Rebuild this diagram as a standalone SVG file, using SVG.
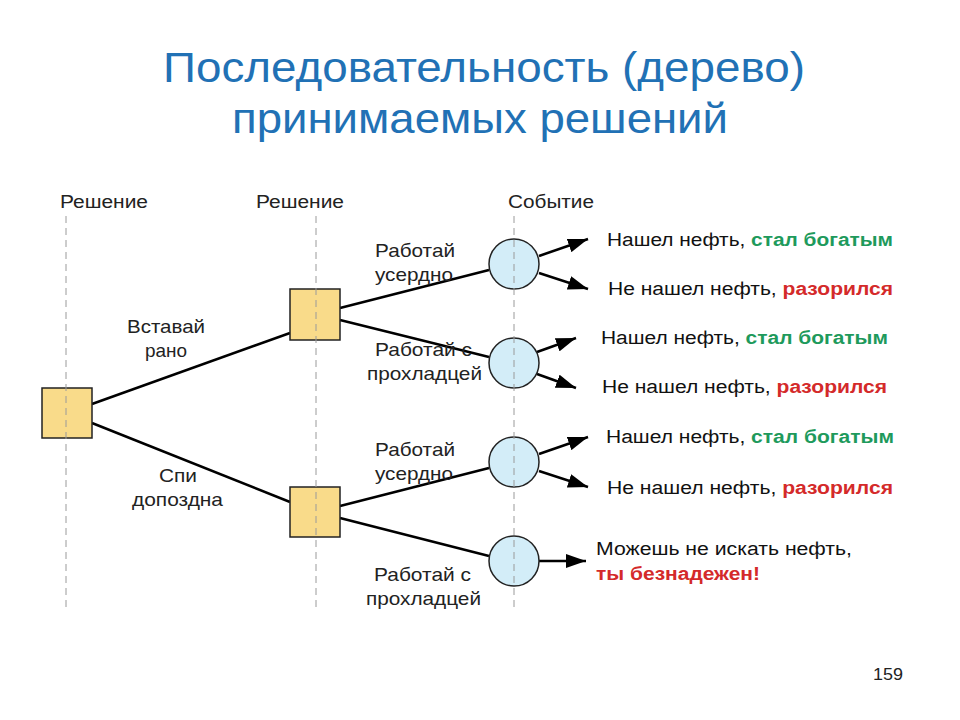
<svg xmlns="http://www.w3.org/2000/svg" width="960" height="720" viewBox="0 0 960 720">
<defs>
<marker id="arr" viewBox="0 0 20 14" refX="20" refY="7" markerWidth="20" markerHeight="14" markerUnits="userSpaceOnUse" orient="auto">
<path d="M0,0 L20,7 L0,14 z" fill="#000"/>
</marker>
<style>
text{font-family:"Liberation Sans",Arial,sans-serif;fill:#111}
.title{font-size:43px;fill:#2171b5}
.hdr{font-size:18px;fill:#222}
.lbl{font-size:18.5px;fill:#222}
.out{font-size:18px}
.g{fill:#1e9a5c;font-weight:bold}
.r{fill:#d42a2a;font-weight:bold}
.dec{fill:#f9db8a;stroke:#222;stroke-width:1.5}
.chance{fill:#d3edf8;stroke:#222;stroke-width:1.5}
.edge{stroke:#000;stroke-width:2.5;fill:none}
.arrow{stroke:#000;stroke-width:2.5;fill:none;marker-end:url(#arr)}
.guide{stroke:#9a9a9a;stroke-width:1;stroke-dasharray:7 5;fill:none}
</style>
</defs>
<rect width="960" height="720" fill="#fff"/>
<text class="title" x="163" y="82" textLength="642" lengthAdjust="spacingAndGlyphs">Последовательность (дерево)</text>
<text class="title" x="232" y="133" textLength="496" lengthAdjust="spacingAndGlyphs">принимаемых решений</text>

<text class="hdr" x="60" y="208" textLength="88" lengthAdjust="spacingAndGlyphs">Решение</text>
<text class="hdr" x="256" y="208" textLength="88" lengthAdjust="spacingAndGlyphs">Решение</text>
<text class="hdr" x="508" y="208" textLength="86" lengthAdjust="spacingAndGlyphs">Событие</text>

<g id="connectors">
<line class="edge" x1="92" y1="404" x2="290" y2="333"/>
<line class="edge" x1="92" y1="423" x2="290" y2="502"/>
<line class="edge" x1="340" y1="308" x2="489" y2="270"/>
<line class="edge" x1="340" y1="320" x2="489" y2="357"/>
<line class="edge" x1="340" y1="506" x2="489" y2="468"/>
<line class="edge" x1="340" y1="518" x2="489" y2="556"/>
<line class="arrow" x1="539" y1="256" x2="588" y2="239"/>
<line class="arrow" x1="539" y1="273" x2="588" y2="289"/>
<line class="arrow" x1="537" y1="352" x2="576" y2="338"/>
<line class="arrow" x1="537" y1="374" x2="576" y2="388"/>
<line class="arrow" x1="539" y1="454" x2="588" y2="437"/>
<line class="arrow" x1="539" y1="471" x2="588" y2="487"/>
<line class="arrow" x1="539" y1="561" x2="586" y2="561"/>
</g>

<g id="root"><rect class="dec" x="42" y="388" width="50" height="50"/></g>
<g id="d1"><rect class="dec" x="290" y="289" width="50" height="51"/></g>
<g id="d2"><rect class="dec" x="290" y="487" width="50" height="50"/></g>
<g id="c1"><circle class="chance" cx="514" cy="264" r="25"/></g>
<g id="c2"><circle class="chance" cx="514" cy="363" r="25"/></g>
<g id="c3"><circle class="chance" cx="514" cy="462" r="25"/></g>
<g id="c4"><circle class="chance" cx="514" cy="561" r="25"/></g>

<g id="guides">
<line class="guide" x1="66" y1="216" x2="66" y2="612"/>
<line class="guide" x1="316" y1="216" x2="316" y2="612"/>
<line class="guide" x1="514" y1="216" x2="514" y2="612"/>
</g>

<g id="edge-labels">
<text class="lbl" x="127" y="333" textLength="78" lengthAdjust="spacingAndGlyphs">Вставай</text>
<text class="lbl" x="145" y="357" textLength="42" lengthAdjust="spacingAndGlyphs">рано</text>
<text class="lbl" x="159" y="482" textLength="38" lengthAdjust="spacingAndGlyphs">Спи</text>
<text class="lbl" x="132" y="506" textLength="91" lengthAdjust="spacingAndGlyphs">допоздна</text>
<text class="lbl" x="375" y="257" textLength="80" lengthAdjust="spacingAndGlyphs">Работай</text>
<text class="lbl" x="375" y="281" textLength="78" lengthAdjust="spacingAndGlyphs">усердно</text>
<text class="lbl" x="375" y="356" textLength="97" lengthAdjust="spacingAndGlyphs">Работай с</text>
<text class="lbl" x="367" y="380" textLength="115" lengthAdjust="spacingAndGlyphs">прохладцей</text>
<text class="lbl" x="375" y="456" textLength="80" lengthAdjust="spacingAndGlyphs">Работай</text>
<text class="lbl" x="375" y="480" textLength="78" lengthAdjust="spacingAndGlyphs">усердно</text>
<text class="lbl" x="374" y="581" textLength="97" lengthAdjust="spacingAndGlyphs">Работай с</text>
<text class="lbl" x="366" y="605" textLength="115" lengthAdjust="spacingAndGlyphs">прохладцей</text>
</g>

<g id="outcomes">
<text class="out" x="607" y="246" textLength="286" lengthAdjust="spacingAndGlyphs">Нашел нефть, <tspan class="g">стал богатым</tspan></text>
<text class="out" x="608" y="295" textLength="285" lengthAdjust="spacingAndGlyphs">Не нашел нефть, <tspan class="r">разорился</tspan></text>
<text class="out" x="601" y="344" textLength="287" lengthAdjust="spacingAndGlyphs">Нашел нефть, <tspan class="g">стал богатым</tspan></text>
<text class="out" x="602" y="393" textLength="285" lengthAdjust="spacingAndGlyphs">Не нашел нефть, <tspan class="r">разорился</tspan></text>
<text class="out" x="606" y="443" textLength="288" lengthAdjust="spacingAndGlyphs">Нашел нефть, <tspan class="g">стал богатым</tspan></text>
<text class="out" x="607" y="494" textLength="286" lengthAdjust="spacingAndGlyphs">Не нашел нефть, <tspan class="r">разорился</tspan></text>
<text class="out" x="596" y="555" textLength="256" lengthAdjust="spacingAndGlyphs">Можешь не искать нефть,</text>
<text class="out" x="596" y="580" textLength="164" lengthAdjust="spacingAndGlyphs"><tspan class="r">ты безнадежен!</tspan></text>
</g>

<text x="873" y="680" textLength="30" lengthAdjust="spacingAndGlyphs" style="font-size:17px;fill:#222">159</text>
</svg>
